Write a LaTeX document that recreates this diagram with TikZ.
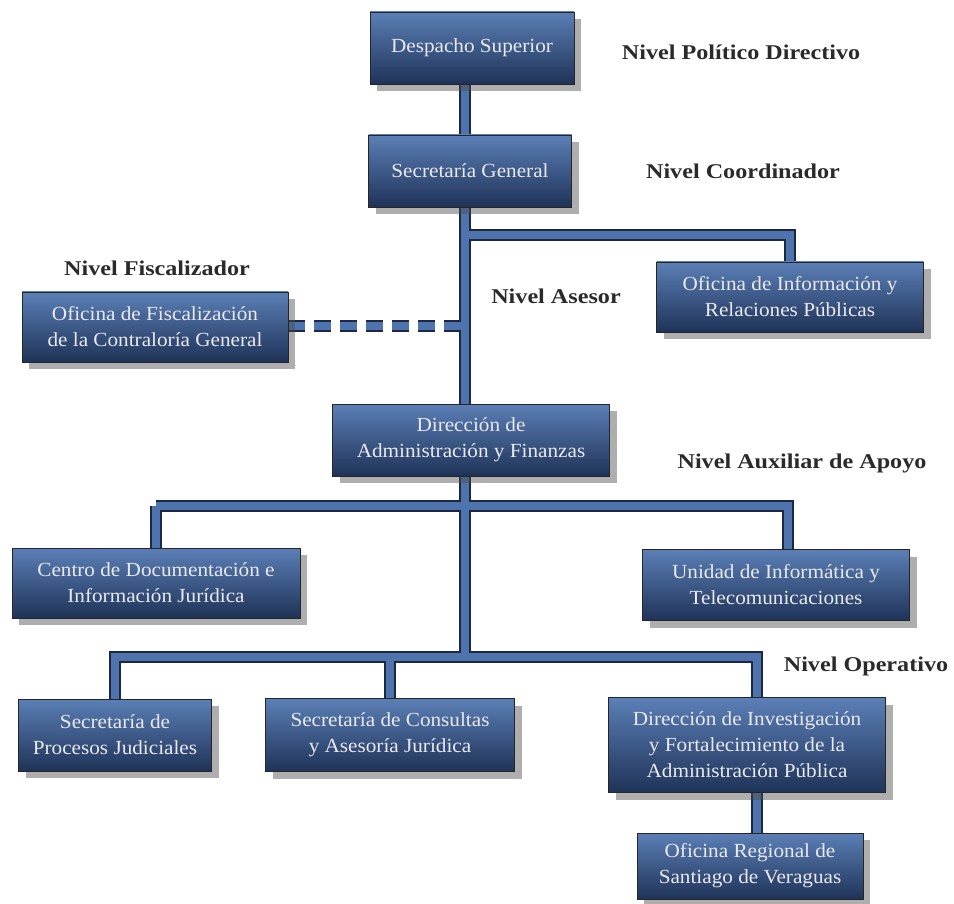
\documentclass[tikz,border=0pt]{standalone}
\usepackage{fontspec}
\setmainfont{Liberation Serif}[FakeStretch=1.06]
\newfontfamily\levelfont{Liberation Serif}[FakeStretch=1.15]
\usetikzlibrary{shadows,backgrounds}
\definecolor{boxtop}{HTML}{5B7FB6}
\definecolor{boxmid}{HTML}{3C5D93}
\definecolor{boxbot}{HTML}{1F3358}
\definecolor{wire}{HTML}{4F74AD}
\definecolor{wireedge}{HTML}{1B2944}
\definecolor{boxtext}{HTML}{E9E9F0}
\definecolor{leveltext}{HTML}{2A2A2A}
\tikzset{
  unit/.style={draw=black!85, line width=0.8pt, top color=boxtop, middle color=boxmid, bottom color=boxbot,
    text=boxtext, align=center, inner sep=0pt, font=\fontsize{20}{26}\selectfont,
    drop shadow={shadow xshift=7pt, shadow yshift=-7pt, opacity=0.45, fill=black!70}},
  level/.style={text=leveltext, font=\levelfont\fontsize{21}{25}\selectfont\bfseries},
  wireout/.style={draw=wireedge, line width=12pt},
  wirein/.style={draw=wire, line width=8pt},
  dashout/.style={wireout, dash pattern=on 17pt off 9pt},
  dashin/.style={wirein, dash pattern=on 17pt off 9pt}
}
\newcommand{\orgwires}[1]{
  \draw[#1] (desp.center -| opb) -- (opb);
  \draw[#1] (asb) -| (ofinf);
  \draw[#1] (centro.center |- auxb) -- (auxr) -- (auxr |- unidad);
  \draw[#1] (centro) -- (centro.center |- auxb);
  \draw[#1] (procesos) |- (opb) -| (invx |- regional);
  \draw[#1] (consultas) -- (consultas.center |- opb);
}
\begin{document}
\begin{tikzpicture}[x=1pt,y=-1pt]
\useasboundingbox (0,0) rectangle (954,904);

\node[unit, minimum width=204pt, minimum height=72pt] (desp) at (472,48) {Despacho Superior};
\node[unit, minimum width=203pt, minimum height=72pt] (secgen) at (470,171) {Secretaría General};
\node[unit, minimum width=267pt, minimum height=70pt] (ofinf) at (790,297) {Oficina de Información y\\Relaciones Públicas};
\node[unit, minimum width=266pt, minimum height=70pt] (fisc) at (155,327) {Oficina de Fiscalización\\de la Contraloría General};
\node[unit, minimum width=277pt, minimum height=72pt] (diradm) at (471,440) {Dirección de\\Administración y Finanzas};
\node[unit, minimum width=288pt, minimum height=70pt] (centro) at (156,583) {Centro de Documentación e\\Información Jurídica};
\node[unit, minimum width=267pt, minimum height=71pt] (unidad) at (776,585) {Unidad de Informática y\\Telecomunicaciones};
\node[unit, minimum width=193pt, minimum height=72pt] (procesos) at (115,735) {Secretaría de\\Procesos Judiciales};
\node[unit, minimum width=249pt, minimum height=73pt] (consultas) at (390,735) {Secretaría de Consultas\\y Asesoría Jurídica};
\node[unit, minimum width=277pt, minimum height=95pt] (dirinv) at (747,745) {Dirección de Investigación\\y Fortalecimiento de la\\Administración Pública};
\node[unit, minimum width=226pt, minimum height=66pt] (regional) at (750,866) {Oficina Regional de\\Santiago de Veraguas};

\node[level] (lpol) at (741,52) {Nivel Político Directivo};
\node[level] (lcoord) at (743,171) {Nivel Coordinador};
\node[level] (lfisc) at (157,268) {Nivel Fiscalizador};
\node[level] (lases) at (556,296) {Nivel Asesor};
\node[level] (laux) at (802,463) {Nivel Auxiliar de Apoyo};
\node[level] (lop) at (866,666) {Nivel Operativo};

\coordinate (asb) at (465,235);
\coordinate (fisb) at (465,326);
\coordinate (auxb) at (465,506);
\coordinate (auxr) at (788,506);
\coordinate (opb) at (465,657);
\coordinate (invx) at (757,657);

\begin{scope}[on background layer]
\orgwires{wireout}
\draw[dashout] (fisc.east |- fisb) -- (fisb);
\orgwires{wirein}
\draw[dashin] (fisc.east |- fisb) -- (fisb);
\end{scope}
\end{tikzpicture}
\end{document}
